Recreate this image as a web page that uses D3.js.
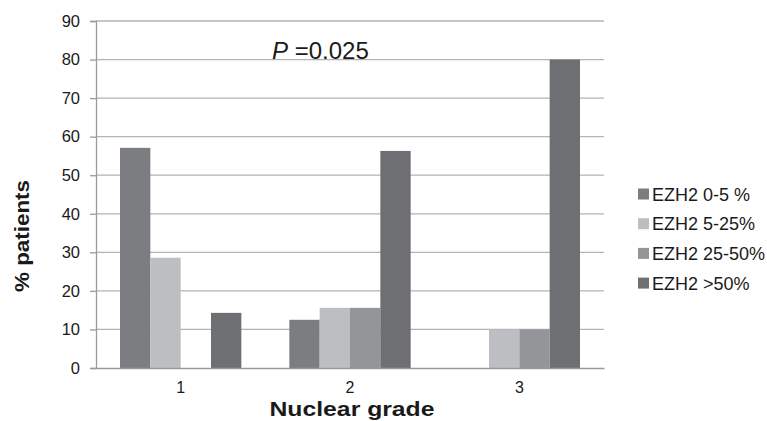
<!DOCTYPE html>
<html>
<head>
<meta charset="utf-8">
<script src="https://cdn.jsdelivr.net/npm/d3@7"></script>
<style>
  html, body { margin: 0; padding: 0; background: #fff; }
  text { font-family: "Liberation Sans", Arial, Helvetica, sans-serif; fill: #1a1a1a; }
</style>
</head>
<body>
<svg id="chart" width="767" height="421"></svg>
<script>
const categories = ["1", "2", "3"];
const seriesNames = ["EZH2 0-5 %", "EZH2 5-25%", "EZH2 25-50%", "EZH2 >50%"];
const seriesColors = ["#7c7d81", "#bdbec2", "#949599", "#6e6f73"];
const ezh2_0_5 = [57.1, 12.5, 0];
const ezh2_5_25 = [28.6, 15.6, 10];
const ezh2_25_50 = [0, 15.6, 10];
const ezh2_gt50 = [14.3, 56.3, 80];
const yTicks = [0, 10, 20, 30, 40, 50, 60, 70, 80, 90];
const xTitle = "Nuclear grade";
const yTitle = "% patients";

const seriesValues = [ezh2_0_5, ezh2_5_25, ezh2_25_50, ezh2_gt50];

const svg = d3.select("#chart");
const mLeft = 96, mRight = 604, mTop = 21, mBottom = 368;

const y = d3.scaleLinear().domain([0, 90]).range([mBottom, mTop]);
const x0 = d3.scaleBand().domain(categories).range([mLeft, mRight]).padding(0);
const x1 = d3.scaleBand().domain(seriesNames)
  .range([24, x0.bandwidth() - 24]).padding(0);

// gridlines
svg.append("g").selectAll("line").data(yTicks.filter(d => d > 0)).join("line")
  .attr("x1", mLeft).attr("x2", mRight)
  .attr("y1", d => y(d)).attr("y2", d => y(d))
  .attr("stroke", "#b3b3b3").attr("stroke-width", 1.3);

// y axis
const yAxis = svg.append("g").attr("transform", `translate(${mLeft},0)`)
  .call(d3.axisLeft(y).tickValues(yTicks).tickSize(6).tickPadding(10));
yAxis.select(".domain").attr("stroke", "#9a9a9a").attr("stroke-width", 1.3);
yAxis.selectAll(".tick line").attr("stroke", "#9a9a9a").attr("stroke-width", 1.3);
yAxis.selectAll(".tick text").attr("font-size", 16.5).attr("fill", "#1a1a1a")
  .style("font-family", "'Liberation Sans', Arial, sans-serif");

// bars
const rows = [];
categories.forEach((c, i) => seriesNames.forEach((s, j) => {
  rows.push({ cat: c, series: s, value: seriesValues[j][i], color: seriesColors[j] });
}));
svg.append("g").selectAll("rect").data(rows.filter(d => d.value > 0)).join("rect")
  .attr("x", d => x0(d.cat) + x1(d.series))
  .attr("width", x1.bandwidth())
  .attr("y", d => y(d.value))
  .attr("height", d => y(0) - y(d.value))
  .attr("fill", d => d.color);

// x axis baseline
const xAxis = svg.append("g").attr("transform", `translate(0,${mBottom})`)
  .call(d3.axisBottom(x0).tickSize(0).tickPadding(14));
xAxis.select(".domain").attr("stroke", "#9a9a9a").attr("stroke-width", 1.6);
xAxis.selectAll(".tick text").attr("font-size", 16).attr("fill", "#1a1a1a")
  .style("font-family", "'Liberation Sans', Arial, sans-serif");

// x title
svg.append("text")
  .attr("x", (mLeft + mRight) / 2 + 2).attr("y", 416)
  .attr("text-anchor", "middle")
  .attr("font-size", 21).attr("font-weight", "bold")
  .attr("textLength", 165).attr("lengthAdjust", "spacingAndGlyphs")
  .text(xTitle);

// y title
svg.append("text")
  .attr("transform", "translate(29,236) rotate(-90)")
  .attr("text-anchor", "middle")
  .attr("font-size", 21).attr("font-weight", "bold")
  .attr("textLength", 112).attr("lengthAdjust", "spacingAndGlyphs")
  .text(yTitle);

// P value annotation
const pText = svg.append("text").attr("x", 272).attr("y", 59).attr("font-size", 24);
pText.append("tspan").attr("font-style", "italic").text("P");
pText.append("tspan").text(" =0.025");

// legend
const legend = svg.append("g").selectAll("g").data(seriesNames).join("g")
  .attr("transform", (d, i) => `translate(638,${194 + i * 29.7})`);
legend.append("rect").attr("x", 0).attr("y", -5.5).attr("width", 11).attr("height", 11)
  .attr("fill", (d, i) => seriesColors[i]);
legend.append("text").attr("x", 14).attr("y", 6.5).attr("font-size", 18)
  .text(d => d);
</script>
</body>
</html>
